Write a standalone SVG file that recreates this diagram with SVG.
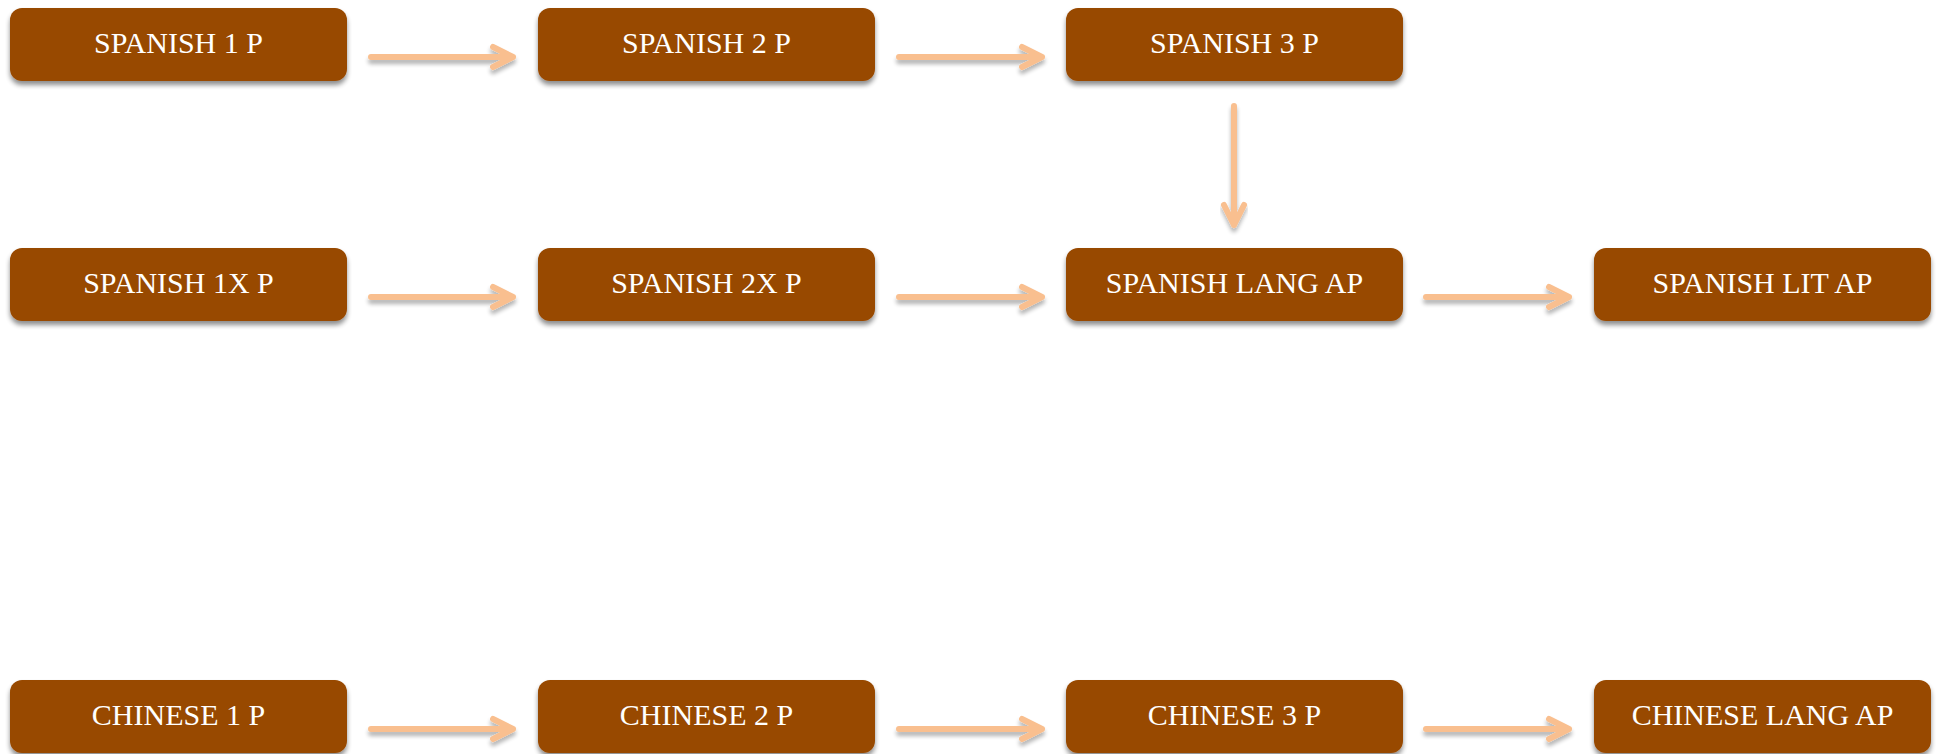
<svg xmlns="http://www.w3.org/2000/svg" width="1942" height="754" viewBox="0 0 1942 754">
<defs>
<filter id="sh" x="-10%" y="-30%" width="120%" height="170%">
<feGaussianBlur in="SourceAlpha" stdDeviation="2.5"/>
<feOffset dx="0" dy="4" result="b"/>
<feComponentTransfer><feFuncA type="linear" slope="0.45"/></feComponentTransfer>
<feMerge><feMergeNode/><feMergeNode in="SourceGraphic"/></feMerge>
</filter>
<filter id="ash" x="-20%" y="-100%" width="140%" height="300%">
<feGaussianBlur in="SourceAlpha" stdDeviation="2"/>
<feOffset dx="0" dy="4" result="b"/>
<feComponentTransfer><feFuncA type="linear" slope="0.3"/></feComponentTransfer>
<feMerge><feMergeNode/><feMergeNode in="SourceGraphic"/></feMerge>
</filter>
</defs>
<style>
.box{fill:#984906;filter:url(#sh)}
.lbl{fill:#ffffff;font-family:"Liberation Serif","Times New Roman",serif;font-size:30px;text-anchor:middle}
.arr{fill:none;stroke:#F9BF8F;stroke-width:6;stroke-linecap:round;stroke-linejoin:round;filter:url(#ash)}
</style>
<rect width="1942" height="754" fill="#ffffff"/>
<g id="connectors">
<path class="arr" d="M371 57H513M493 47L513 57L493 67"/>
<path class="arr" d="M899 57H1042M1022 47L1042 57L1022 67"/>
<path class="arr" d="M1234 106V225M1224 205L1234 225L1244 205"/>
<path class="arr" d="M371 297H513M493 287L513 297L493 307"/>
<path class="arr" d="M899 297H1042M1022 287L1042 297L1022 307"/>
<path class="arr" d="M1426 297H1569M1549 287L1569 297L1549 307"/>
<path class="arr" d="M371 729H513M493 719L513 729L493 739"/>
<path class="arr" d="M899 729H1042M1022 719L1042 729L1022 739"/>
<path class="arr" d="M1426 729H1569M1549 719L1569 729L1549 739"/>
</g>
<g id="spanish1p"><rect class="box" x="10" y="8" width="337" height="73" rx="12"/><text class="lbl" x="178.5" y="53">SPANISH 1 P</text></g>
<g id="spanish2p"><rect class="box" x="538" y="8" width="337" height="73" rx="12"/><text class="lbl" x="706.5" y="53">SPANISH 2 P</text></g>
<g id="spanish3p"><rect class="box" x="1066" y="8" width="337" height="73" rx="12"/><text class="lbl" x="1234.5" y="53">SPANISH 3 P</text></g>
<g id="spanish1xp"><rect class="box" x="10" y="248" width="337" height="73" rx="12"/><text class="lbl" x="178.5" y="293">SPANISH 1X P</text></g>
<g id="spanish2xp"><rect class="box" x="538" y="248" width="337" height="73" rx="12"/><text class="lbl" x="706.5" y="293">SPANISH 2X P</text></g>
<g id="spanishlangap"><rect class="box" x="1066" y="248" width="337" height="73" rx="12"/><text class="lbl" x="1234.5" y="293">SPANISH LANG AP</text></g>
<g id="spanishlitap"><rect class="box" x="1594" y="248" width="337" height="73" rx="12"/><text class="lbl" x="1762.5" y="293">SPANISH LIT AP</text></g>
<g id="chinese1p"><rect class="box" x="10" y="680" width="337" height="73" rx="12"/><text class="lbl" x="178.5" y="725">CHINESE 1 P</text></g>
<g id="chinese2p"><rect class="box" x="538" y="680" width="337" height="73" rx="12"/><text class="lbl" x="706.5" y="725">CHINESE 2 P</text></g>
<g id="chinese3p"><rect class="box" x="1066" y="680" width="337" height="73" rx="12"/><text class="lbl" x="1234.5" y="725">CHINESE 3 P</text></g>
<g id="chineselangap"><rect class="box" x="1594" y="680" width="337" height="73" rx="12"/><text class="lbl" x="1762.5" y="725">CHINESE LANG AP</text></g>
</svg>
